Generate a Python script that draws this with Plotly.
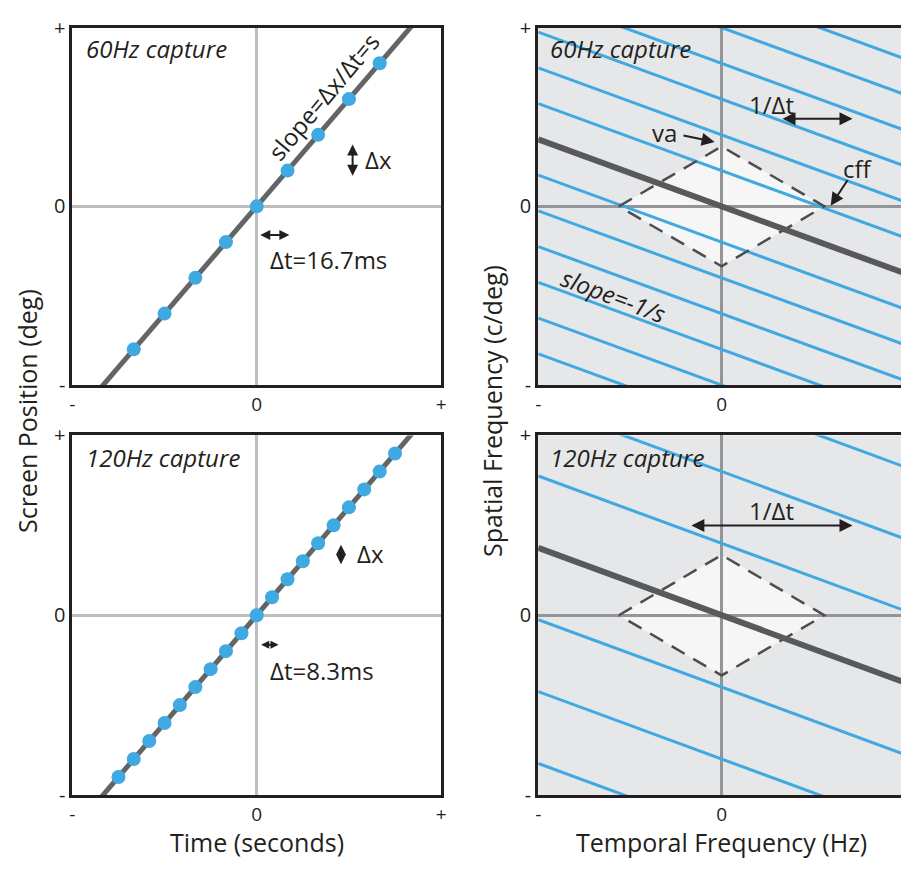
import plotly.graph_objects as go

W, H = 906, 869

# ---------------- data ----------------
# left panels: sampled screen positions of a moving object
t_60 = [-0.667, -0.5, -0.333, -0.167, 0.0, 0.167, 0.333, 0.5, 0.667]
x_60 = [-0.8, -0.6, -0.4, -0.2, 0.0, 0.2, 0.4, 0.6, 0.8]
t_120 = [-0.75, -0.667, -0.583, -0.5, -0.417, -0.333, -0.25, -0.167, -0.083, 0.0,
         0.083, 0.167, 0.25, 0.333, 0.417, 0.5, 0.583, 0.667, 0.75]
x_120 = [-0.9, -0.8, -0.7, -0.6, -0.5, -0.4, -0.3, -0.2, -0.1, 0.0,
         0.1, 0.2, 0.3, 0.4, 0.5, 0.6, 0.7, 0.8, 0.9]
motion_t = [-1.0, 1.0]
motion_x = [-1.2, 1.2]

# right panels: spectrum lines (temporal freq -> spatial freq)
spec_tf = [-1.0, 1.0]
spec_slope = -0.375
alias_intercepts_60 = [-1.2, -1.0, -0.8, -0.6, -0.4, -0.2, 0.0, 0.2, 0.4, 0.6, 0.8, 1.0, 1.2]
alias_intercepts_120 = [-1.2, -0.8, -0.4, 0.0, 0.4, 0.8, 1.2]
diamond_tf = [-0.56, 0.0, 0.56, 0.0, -0.56]
diamond_sf = [0.0, 0.335, 0.0, -0.335, 0.0]

tick_vals = [-1, 0, 1]
tick_text = ["-", "0", "+"]

# ---------------- style ----------------
FONT = "Open Sans"
INK = "#231f20"
BLUE = "#3fa9e1"
MOTION_GRAY = "#636466"
THICK_GRAY = "#58595b"
LEFT_ZERO = "#bcbec0"
RIGHT_ZERO = "#939598"
RIGHT_BG = "#e6e7e8"
DIAMOND_FILL = "#f6f6f6"

fig = go.Figure()

# left panels
for (xa, ya, ts, xs) in [("x", "y", t_60, x_60), ("x3", "y3", t_120, x_120)]:
    fig.add_trace(go.Scatter(x=motion_t, y=motion_x, xaxis=xa, yaxis=ya, mode="lines",
                             line=dict(color=MOTION_GRAY, width=5), hoverinfo="skip"))
    fig.add_trace(go.Scatter(x=ts, y=xs, xaxis=xa, yaxis=ya, mode="markers",
                             marker=dict(color=BLUE, size=14, line=dict(width=0)),
                             hoverinfo="skip"))

# right panels
shapes = []
for (xa, ya, intercepts) in [("x2", "y2", alias_intercepts_60), ("x4", "y4", alias_intercepts_120)]:
    shapes.append(dict(type="rect", xref=xa + " domain", yref=ya + " domain",
                       x0=0, x1=1, y0=0, y1=1, fillcolor=RIGHT_BG, line=dict(width=0),
                       layer="below"))
    path = "M " + " L ".join(f"{a},{b}" for a, b in zip(diamond_tf[:-1], diamond_sf[:-1])) + " Z"
    shapes.append(dict(type="path", xref=xa, yref=ya, path=path, fillcolor=DIAMOND_FILL,
                       line=dict(width=0), layer="below"))
    for b in intercepts:
        fig.add_trace(go.Scatter(x=spec_tf, y=[spec_slope * t + b for t in spec_tf],
                                 xaxis=xa, yaxis=ya, mode="lines",
                                 line=dict(color=BLUE, width=3), hoverinfo="skip"))
    fig.add_trace(go.Scatter(x=diamond_tf, y=diamond_sf, xaxis=xa, yaxis=ya, mode="lines",
                             line=dict(color="#4d4d4f", width=2.5, dash="15px,10px"),
                             hoverinfo="skip"))
    fig.add_trace(go.Scatter(x=spec_tf, y=[spec_slope * t for t in spec_tf],
                             xaxis=xa, yaxis=ya, mode="lines",
                             line=dict(color=THICK_GRAY, width=6), hoverinfo="skip"))

# ---------------- axes ----------------
left_x = [70 / W, 442 / W]
right_x = [540 / W, 1.0]
top_y = [1 - 383 / H, 1 - 14 / H]
bot_y = [1 - 806 / H, 1 - 435 / H]

def xax(domain, anchor, rng, zc, mirror=True):
    return dict(domain=domain, anchor=anchor, range=rng, tickvals=tick_vals, ticktext=tick_text,
                showgrid=False, zeroline=True, zerolinecolor=zc, zerolinewidth=2.5,
                showline=True, linecolor=INK, linewidth=3, mirror=mirror, ticks="",
                tickfont=dict(family=FONT, size=19, color=INK), fixedrange=True)

def yax(domain, anchor, zc, mirror=True):
    return dict(domain=domain, anchor=anchor, range=[-1, 1], tickvals=tick_vals, ticktext=tick_text,
                showgrid=False, zeroline=True, zerolinecolor=zc, zerolinewidth=2.5,
                showline=True, linecolor=INK, linewidth=3, mirror=mirror, ticks="",
                tickfont=dict(family=FONT, size=20, color=INK), fixedrange=True)

right_range = [-1, (906 - 725) / 185]

fig.update_layout(
    xaxis=xax(left_x, "y", [-1, 1], LEFT_ZERO),
    yaxis=yax(top_y, "x", LEFT_ZERO),
    xaxis2=xax(right_x, "y2", right_range, RIGHT_ZERO, mirror=True),
    yaxis2=yax(top_y, "x2", RIGHT_ZERO, mirror=False),
    xaxis3=xax(left_x, "y3", [-1, 1], LEFT_ZERO),
    yaxis3=yax(bot_y, "x3", LEFT_ZERO),
    xaxis4=xax(right_x, "y4", right_range, RIGHT_ZERO, mirror=True),
    yaxis4=yax(bot_y, "x4", RIGHT_ZERO, mirror=False),
)

# ---------------- annotations ----------------
ann = []

def text(xa, ya, x, y, s, size=24, xanchor="left", angle=0, italic=False):
    ann.append(dict(xref=xa, yref=ya, x=x, y=y, text=f"<i>{s}</i>" if italic else s,
                    showarrow=False, xanchor=xanchor, yanchor="middle", textangle=angle,
                    font=dict(family=FONT, size=size, color=INK)))

def arrow(xa, ya, x0, y0, x1, y1, both=True, size=1.3):
    ann.append(dict(xref=xa, yref=ya, axref=xa, ayref=ya, x=x1, y=y1, ax=x0, ay=y0,
                    text="", showarrow=True, arrowhead=2, arrowsize=size, arrowwidth=2,
                    arrowcolor=INK, arrowside="end+start" if both else "end",
                    startarrowhead=2, startarrowsize=size))

# top-left
text("x", "y", -0.935, 0.881, "60Hz capture", italic=True)
text("x", "y", 0.36, 0.615, "slope=Δx/Δt=s", xanchor="center", angle=-50)
arrow("x", "y", 0.52, 0.355, 0.52, 0.171, size=1.1)
text("x", "y", 0.575, 0.263, "Δx")
arrow("x", "y", 0.011, -0.16, 0.177, -0.16, size=1.0)
text("x", "y", 0.059, -0.30, "Δt=16.7ms")

# bottom-left
text("x3", "y3", -0.935, 0.876, "120Hz capture", italic=True)
arrow("x3", "y3", 0.457, 0.40, 0.457, 0.283, size=1.0)
text("x3", "y3", 0.532, 0.342, "Δx")
arrow("x3", "y3", 0.016, -0.164, 0.118, -0.164, size=0.8)
text("x3", "y3", 0.059, -0.31, "Δt=8.3ms")

# top-right
text("x2", "y2", -0.946, 0.881, "60Hz capture", italic=True)
text("x2", "y2", 0.27, 0.572, "1/Δt", xanchor="center")
arrow("x2", "y2", 0.324, 0.49, 0.714, 0.49)
text("x2", "y2", -0.313, 0.415, "va", xanchor="center")
arrow("x2", "y2", -0.216, 0.398, -0.038, 0.36, both=False)
text("x2", "y2", 0.74, 0.209, "cff", xanchor="center")
arrow("x2", "y2", 0.692, 0.154, 0.595, 0.003, both=False)
text("x2", "y2", -0.589, -0.50, "slope=-1/s", xanchor="center", angle=20.6, italic=True)

# bottom-right
text("x4", "y4", -0.946, 0.876, "120Hz capture", italic=True)
text("x4", "y4", 0.27, 0.58, "1/Δt", xanchor="center")
arrow("x4", "y4", -0.173, 0.499, 0.714, 0.499)

# axis titles
def title(px, py, s, angle=0):
    ann.append(dict(xref="paper", yref="paper", x=px / W, y=1 - py / H, text=s, showarrow=False,
                    xanchor="center", yanchor="middle", textangle=angle,
                    font=dict(family=FONT, size=25, color=INK)))

title(24, 410, "Screen Position (deg)", -90)
title(494, 410, "Spatial Frequency (c/deg)", -90)
title(256, 855, "Time (seconds)")
title(725, 855, "Temporal Frequency (Hz)")

fig.update_layout(
    width=W, height=H, margin=dict(l=0, r=0, t=0, b=0),
    paper_bgcolor="white", plot_bgcolor="white", showlegend=False,
    annotations=ann, shapes=shapes,
)

fig.write_html("out.html", config={"displayModeBar": False})
